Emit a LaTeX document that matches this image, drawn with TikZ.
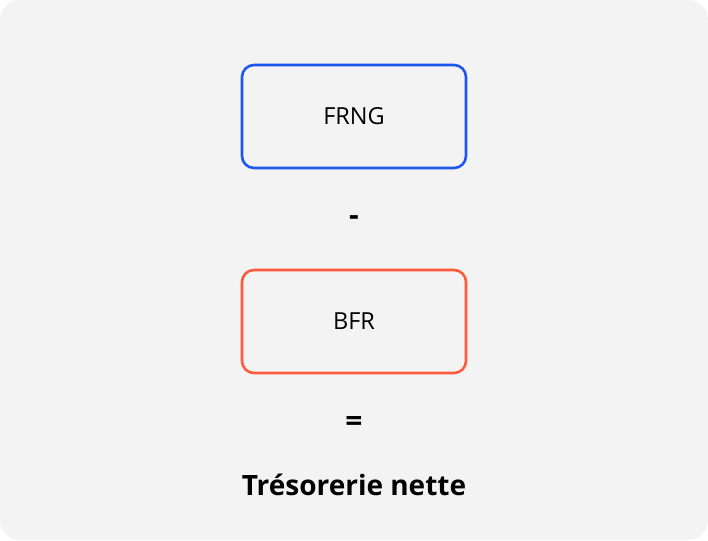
\documentclass[tikz,border=0pt]{standalone}
\usepackage{fontspec}
\setmainfont{Open Sans}
\usepackage{xcolor}
\definecolor{bgGrey}{HTML}{F3F3F3}
\definecolor{blueF}{HTML}{1E56F0}
\definecolor{orangeB}{HTML}{FF5A3C}
\begin{document}
\begin{tikzpicture}[x=1pt, y=-1pt,
    termbox/.style={rectangle, rounded corners=12pt, line width=2.6pt, minimum width=224pt, minimum height=103pt, inner sep=0pt, font=\fontsize{23.5}{28}\selectfont, text=black},
    opsign/.style={font=\bfseries\fontsize{30}{34}\selectfont, inner sep=0pt}
]
\useasboundingbox (0,0) rectangle (708,540);
\fill[white] (0,0) rectangle (708,540);
\fill[bgGrey, rounded corners=20pt] (0,0) rectangle (708,540);
% ---- boxes ----
\node[termbox, draw=blueF] (frng) at (354,116.5) {FRNG};
\node[termbox, draw=orangeB] (bfr) at (354,321.5) {BFR};
% ---- operators ----
\node[opsign] (minus) at (354,221) {-};
\node[opsign] (equal) at (354,424) {=};
% ---- result ----
\node[font=\bfseries\fontsize{28}{32}\selectfont, anchor=base, inner sep=0pt] (treso) at (354,495) {Trésorerie nette};
\end{tikzpicture}
\end{document}
